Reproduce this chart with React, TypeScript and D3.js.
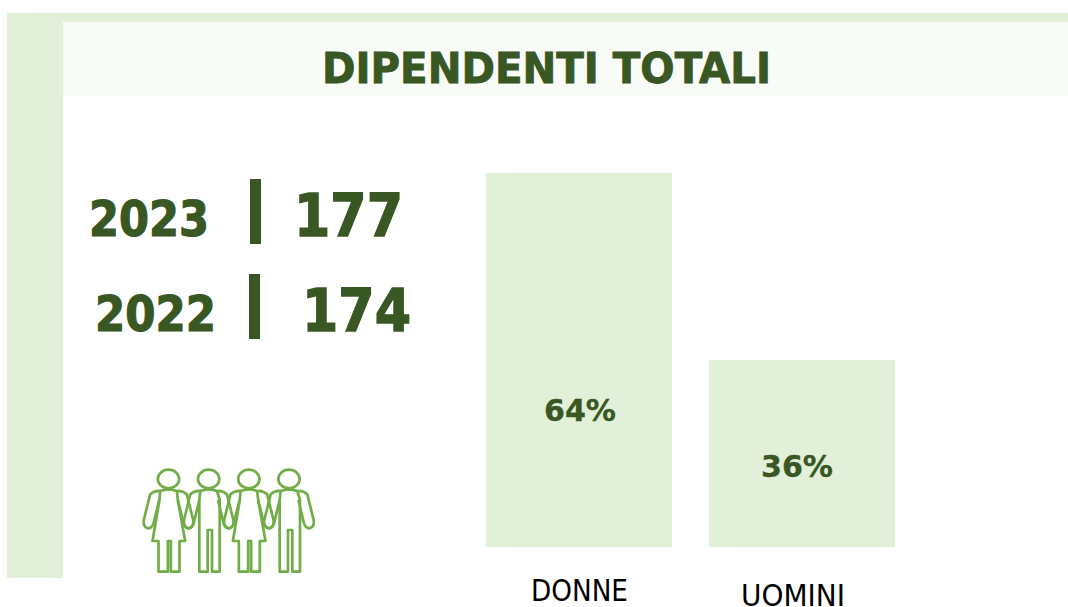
import React from "react";
import * as d3 from "d3";

const W = 1068, H = 607;
const DARK = "#385723", LIGHT = "#e2f0d9", PALE = "#f9fbf7", ICON = "#70ad47";
const FONT = "'DejaVu Sans', Verdana, sans-serif";

const title = "DIPENDENTI TOTALI";
const years = ["2023", "2022"];
const totals = ["177", "174"];
const categories = ["DONNE", "UOMINI"];
const shares = [64, 36];
const figures = ["w", "m", "w", "m"];

const x = d3.scaleBand<string>().domain(categories).range([486, 895]).paddingInner(37 / 223).paddingOuter(0);
const y = d3.scaleLinear().domain([8, 64]).range([547, 173]);

const arms = "M-25 108 Q-42 106 -55 118 L-74 195 Q-77 215 -62 220 Q-50 220 -45 205 L-28 135 M-25 108 Q0 98 25 108 M25 108 Q42 106 55 118 L74 195 Q77 215 62 220 Q50 220 45 205 L28 135";
const woman = "M-25 108 L-27 135 L-48 258 L-30 258 L-30 350 L-2 350 L-2 258 L7 258 L7 350 L33 350 L33 258 L50 258 L28 135 L25 108";
const man = "M-25 108 L-28 135 L-28 350 L-3 350 L-3 225 L10 225 L10 350 L33 350 L33 135 L25 108";

const fx = d3.scalePoint<number>().domain(figures.map((_, i) => i)).range([168.5, 289]);

function Fit(p: { x: number; w: number; y: number; size: number; bold?: boolean; fill?: string; thick?: number; children: string }) {
  const fill = p.fill ?? DARK;
  return (
    <text x={p.x} y={p.y} textLength={p.w} lengthAdjust="spacingAndGlyphs" fontFamily={FONT}
      fontSize={p.size} fontWeight={p.bold === false ? 400 : 700} fill={fill}
      stroke={p.thick ? fill : "none"} strokeWidth={p.thick ?? 0}>{p.children}</text>
  );
}

export default function App() {
  const yearPos = [{ x: 89, w: 120, y: 236 }, { x: 95, w: 121, y: 331 }];
  const totalPos = [{ x: 294, w: 109, y: 236 }, { x: 302, w: 109, y: 331 }];
  const sepPos = [{ x: 250, y: 179 }, { x: 249, y: 274 }];
  const shareY = [421, 477];
  const shareX = [544, 761];
  const catPos = [{ x: 531, w: 97, y: 601 }, { x: 741, w: 104, y: 606 }];
  return (
    <svg width={W} height={H} viewBox={`0 0 ${W} ${H}`} style={{ position: "absolute", left: 0, top: 0, background: "#fff" }}>
      <rect x={7} y={13} width={56} height={565} fill={LIGHT} />
      <rect x={7} y={13} width={1061} height={9} fill={LIGHT} />
      <rect x={63} y={22} width={1005} height={74} fill={PALE} />
      <Fit x={322} w={449} y={83} size={42.5} thick={0.9}>{title}</Fit>

      {years.map((yr, i) => (
        <g key={yr}>
          <Fit x={yearPos[i].x} w={yearPos[i].w} y={yearPos[i].y} size={49} thick={1.2}>{yr}</Fit>
          <rect x={sepPos[i].x} y={sepPos[i].y} width={11} height={65} fill={DARK} />
          <Fit x={totalPos[i].x} w={totalPos[i].w} y={totalPos[i].y} size={59} thick={1.5}>{totals[i]}</Fit>
        </g>
      ))}

      {categories.map((c, i) => (
        <g key={c}>
          <rect x={x(c)} y={y(shares[i])} width={x.bandwidth()} height={y(8) - y(shares[i])} fill={LIGHT} />
          <Fit x={shareX[i]} w={72} y={shareY[i]} size={31} thick={0.3}>{`${shares[i]}%`}</Fit>
          <Fit x={catPos[i].x} w={catPos[i].w} y={catPos[i].y} size={29.5} bold={false} fill="#000">{c}</Fit>
        </g>
      ))}

      {figures.map((f, i) => (
        <g key={i} transform={`translate(${fx(i)},455) scale(${1 / 3})`} fill="none" stroke={ICON} strokeWidth={8} strokeLinejoin="round">
          <ellipse cx={0} cy={72} rx={32} ry={28} />
          <path d={arms} />
          <path d={f === "w" ? woman : man} />
        </g>
      ))}
    </svg>
  );
}
